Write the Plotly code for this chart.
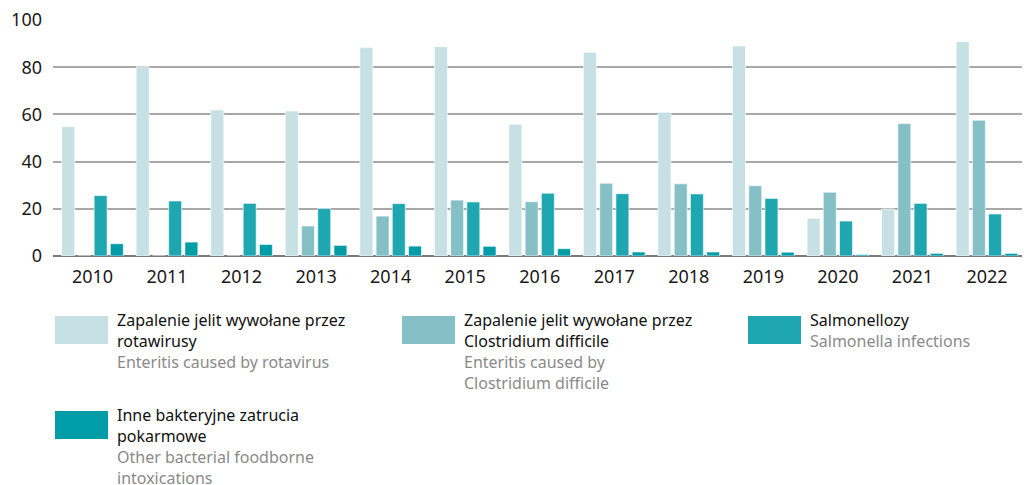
import plotly.graph_objects as go

# Data
years = ["2010", "2011", "2012", "2013", "2014", "2015", "2016",
         "2017", "2018", "2019", "2020", "2021", "2022"]
rotavirus = [54.8, 80.2, 61.9, 61.4, 88.3, 88.7, 55.8, 86.3, 60.9, 89.0, 16.0, 19.9, 90.8]
clostridium = [0, 0, 0, 12.7, 16.9, 23.7, 23.0, 30.8, 30.6, 29.8, 27.0, 56.1, 57.5]
salmonella = [25.6, 23.3, 22.3, 20.1, 22.2, 22.9, 26.6, 26.4, 26.3, 24.4, 14.8, 22.3, 17.8]
other = [5.2, 5.9, 4.9, 4.5, 4.2, 4.1, 3.1, 1.7, 1.7, 1.6, 0.6, 1.1, 1.1]

names_pl = ["Zapalenie jelit wywołane przez<br>rotawirusy",
            "Zapalenie jelit wywołane przez<br>Clostridium difficile",
            "Salmonellozy",
            "Inne bakteryjne zatrucia<br>pokarmowe"]
names_en = ["Enteritis caused by rotavirus",
            "Enteritis caused by<br>Clostridium difficile",
            "Salmonella infections",
            "Other bacterial foodborne<br>intoxications"]
colors = ["#c6e0e4", "#86c0c7", "#1fa7b1", "#009ca8"]

W, H = 1024, 485
L, R, T, B = 53, 2, 20, 229
pw, ph = W - L - R, H - T - B


def px(x):
    return (x - L) / pw


def py(y):
    return (H - B - y) / ph


fig = go.Figure()
for vals, name, col in zip([rotavirus, clostridium, salmonella, other], names_pl, colors):
    fig.add_trace(go.Bar(x=years, y=vals, name=name, marker_color=col,
                         marker_line_width=0.6, marker_line_color="white"))

fig.update_layout(
    width=W, height=H,
    margin=dict(l=L, r=R, t=T, b=B),
    barmode="group", bargap=0.13, bargroupgap=0.2,
    plot_bgcolor="white", paper_bgcolor="white",
    showlegend=False,
    font=dict(family="Noto Sans", size=18, color="#1a1a1a"),
)
fig.update_xaxes(showgrid=False, ticks="", tickfont=dict(size=18),
                 range=[-0.53, 12.47], ticklabelstandoff=8)
fig.update_yaxes(range=[0, 100], dtick=20, showgrid=True, gridcolor="#a8a8a8",
                 gridwidth=1.5, zeroline=True, zerolinecolor="#7a7a7a",
                 zerolinewidth=2, tickfont=dict(size=18), ticklabelstandoff=10)

# custom legend: swatch + Polish name + English name
slots = [(55, 316), (402, 316), (748, 316), (55, 411)]
for (x0, y0), pl, en, col in zip(slots, names_pl, names_en, colors):
    fig.add_shape(type="rect", xref="paper", yref="paper",
                  x0=px(x0), x1=px(x0 + 53), y0=py(y0), y1=py(y0 + 28),
                  fillcolor=col, line_width=0)
    n_pl = pl.count("<br>") + 1
    fig.add_annotation(xref="paper", yref="paper", x=px(x0 + 60), y=py(y0 - 9),
                       xanchor="left", yanchor="top", align="left", showarrow=False,
                       text=pl, font=dict(size=16, color="#111111"))
    fig.add_annotation(xref="paper", yref="paper", x=px(x0 + 60), y=py(y0 - 9 + 21 * n_pl),
                       xanchor="left", yanchor="top", align="left", showarrow=False,
                       text=en, font=dict(size=16, color="#8a8a8a"))

fig.write_html("out.html", config={"displayModeBar": False},
               post_script="document.body.style.margin='0';document.body.style.overflow='hidden';")
